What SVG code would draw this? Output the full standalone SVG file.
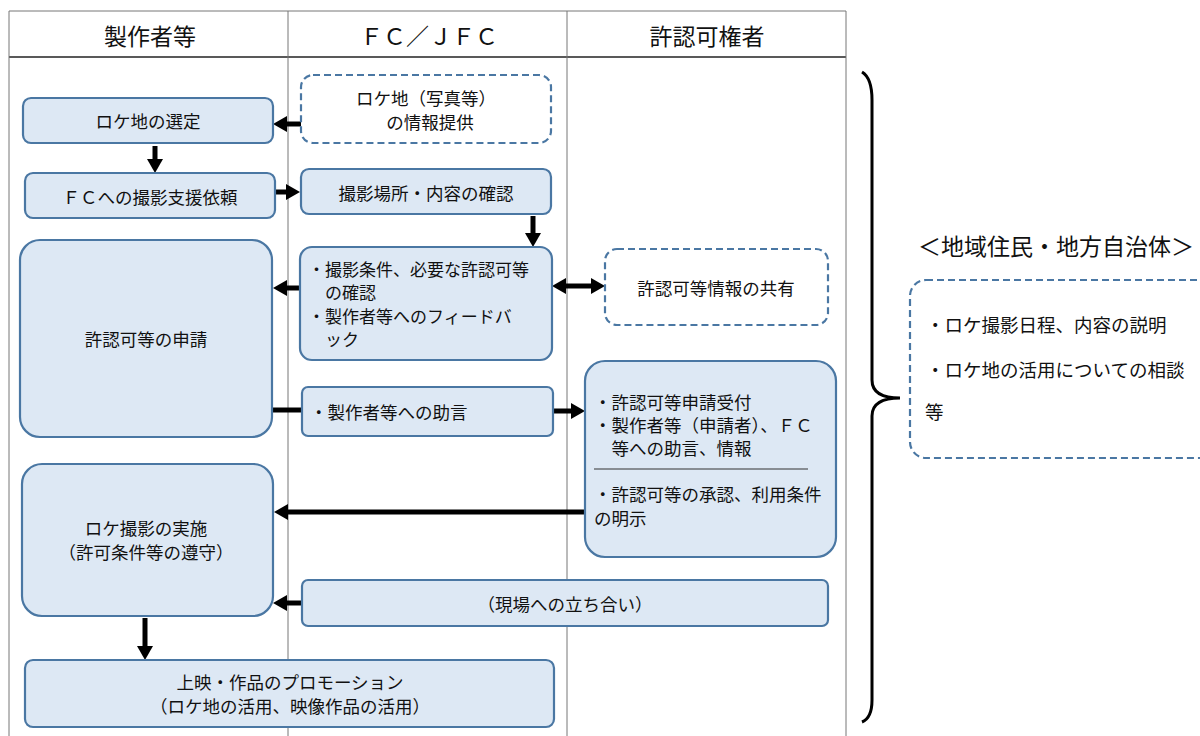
<svg xmlns="http://www.w3.org/2000/svg" width="1200" height="736" viewBox="0 0 1200 736">
<style>
text{font-family:"Noto Sans CJK JP","Noto Sans",sans-serif;fill:#111;font-size:17.5px;dominant-baseline:central}
.c{text-anchor:middle}
.h{font-size:23px}
.s{font-size:17px}
.r{font-size:18.5px}
.box{fill:#dde8f4;stroke:#4a77a3;stroke-width:2.2}
.dash{fill:#fff;stroke:#4a77a3;stroke-width:2.2;stroke-dasharray:7 4}
.grid{stroke:#777;stroke-width:1;fill:none}
.con{stroke:#000;stroke-width:5;fill:none}
</style>
<defs>
<marker id="ah" viewBox="0 0 10 10" refX="0" refY="5" markerWidth="14" markerHeight="16" markerUnits="userSpaceOnUse" orient="auto-start-reverse" preserveAspectRatio="none">
<path d="M0,0 L10,5 L0,10 z" fill="#000"/>
</marker>
</defs>
<rect width="1200" height="736" fill="#fff"/>
<g id="table">
<line class="grid" x1="9" y1="11" x2="846" y2="11"/>
<line x1="9" y1="57" x2="846" y2="57" stroke="#222" stroke-width="1.5"/>
<line class="grid" x1="9" y1="11" x2="9" y2="736"/>
<line class="grid" x1="288" y1="11" x2="288" y2="736"/>
<line class="grid" x1="567" y1="11" x2="567" y2="736"/>
<line class="grid" x1="846" y1="11" x2="846" y2="736"/>
<text class="c h" x="150" y="35">製作者等</text>
<text class="c h" x="429" y="35">ＦＣ／ＪＦＣ</text>
<text class="c h" x="707" y="35">許認可権者</text>
</g>
<g id="connectors">
<line class="con" x1="301" y1="124" x2="287" y2="124" marker-end="url(#ah)"/>
<line class="con" x1="155" y1="146" x2="155" y2="159" marker-end="url(#ah)"/>
<line class="con" x1="275" y1="192" x2="286" y2="192" marker-end="url(#ah)"/>
<line class="con" x1="533" y1="216" x2="533" y2="233" marker-end="url(#ah)"/>
<line class="con" x1="300" y1="288" x2="287" y2="288" marker-end="url(#ah)"/>
<line class="con" x1="566" y1="286" x2="591" y2="286" marker-start="url(#ah)" marker-end="url(#ah)"/>
<line class="con" x1="272" y1="410" x2="302" y2="410"/>
<line class="con" x1="553" y1="411" x2="571" y2="411" marker-end="url(#ah)"/>
<line class="con" x1="585" y1="512" x2="288" y2="512" marker-end="url(#ah)"/>
<line class="con" x1="302" y1="603" x2="287" y2="603" marker-end="url(#ah)"/>
<line class="con" x1="145" y1="618" x2="145" y2="646" marker-end="url(#ah)"/>
</g>
<g id="n-info">
<rect class="dash" x="301" y="75" width="250" height="68" rx="12"/>
<text class="c" x="426" y="97">ロケ地（写真等）</text>
<text class="c" x="430" y="121">の情報提供</text>
</g>
<g id="n-select">
<rect class="box" x="23" y="98" width="250" height="45" rx="8"/>
<text class="c" x="148" y="120">ロケ地の選定</text>
</g>
<g id="n-request">
<rect class="box" x="25" y="173" width="250" height="45" rx="8"/>
<text class="c" x="150" y="196">ＦＣへの撮影支援依頼</text>
</g>
<g id="n-confirm">
<rect class="box" x="301" y="169" width="250" height="45" rx="8"/>
<text class="c" x="426" y="192">撮影場所・内容の確認</text>
</g>
<g id="n-conditions">
<rect class="box" x="300" y="247" width="252" height="113" rx="12"/>
<text class="s" x="308" y="268">・撮影条件、必要な許認可等</text>
<text class="s" x="308" y="291">　の確認</text>
<text class="s" x="308" y="315">・製作者等へのフィードバ</text>
<text class="s" x="308" y="338">　ック</text>
</g>
<g id="n-share">
<rect class="dash" x="605" y="249" width="223" height="76" rx="12"/>
<text class="c" x="716" y="287">許認可等情報の共有</text>
</g>
<g id="n-apply">
<rect class="box" x="20" y="240" width="252" height="197" rx="20"/>
<text class="c" x="146" y="338">許認可等の申請</text>
</g>
<g id="n-advice">
<rect class="box" x="302" y="387" width="251" height="49" rx="6"/>
<text x="310" y="411">・製作者等への助言</text>
</g>
<g id="n-authority">
<rect class="box" x="585" y="361" width="251" height="196" rx="20"/>
<text x="594" y="401">・許認可等申請受付</text>
<text x="594" y="424">・製作者等（申請者）、ＦＣ</text>
<text x="594" y="447">　等への助言、情報</text>
<line x1="594" y1="469" x2="808" y2="469" stroke="#333" stroke-width="1"/>
<text x="594" y="493">・許認可等の承認、利用条件</text>
<text x="594" y="517">の明示</text>
</g>
<g id="n-shoot">
<rect class="box" x="22" y="464" width="251" height="152" rx="20"/>
<text class="c" x="146" y="527">ロケ撮影の実施</text>
<text class="c" x="146" y="551">（許可条件等の遵守）</text>
</g>
<g id="n-attend">
<rect class="box" x="302" y="580" width="526" height="46" rx="6"/>
<text class="c" x="565" y="603">（現場への立ち合い）</text>
</g>
<g id="n-promo">
<rect class="box" x="25" y="660" width="529" height="67" rx="8"/>
<text class="c" x="290" y="681">上映・作品のプロモーション</text>
<text class="c" x="290" y="705">（ロケ地の活用、映像作品の活用）</text>
</g>
<g id="n-local">
<path d="M862,72 Q872,78 872,100 L872,380 Q872,398 900,398 Q872,398 872,416 L872,700 Q872,718 862,722" fill="none" stroke="#000" stroke-width="3"/>
<text x="918" y="245" class="h">＜地域住民・地方自治体＞</text>
<rect class="dash" x="910" y="280" width="310" height="178" rx="16"/>
<text class="r" x="926" y="324">・ロケ撮影日程、内容の説明</text>
<text class="r" x="926" y="369">・ロケ地の活用についての相談</text>
<text class="r" x="925" y="411">等</text>
</g>
</svg>
